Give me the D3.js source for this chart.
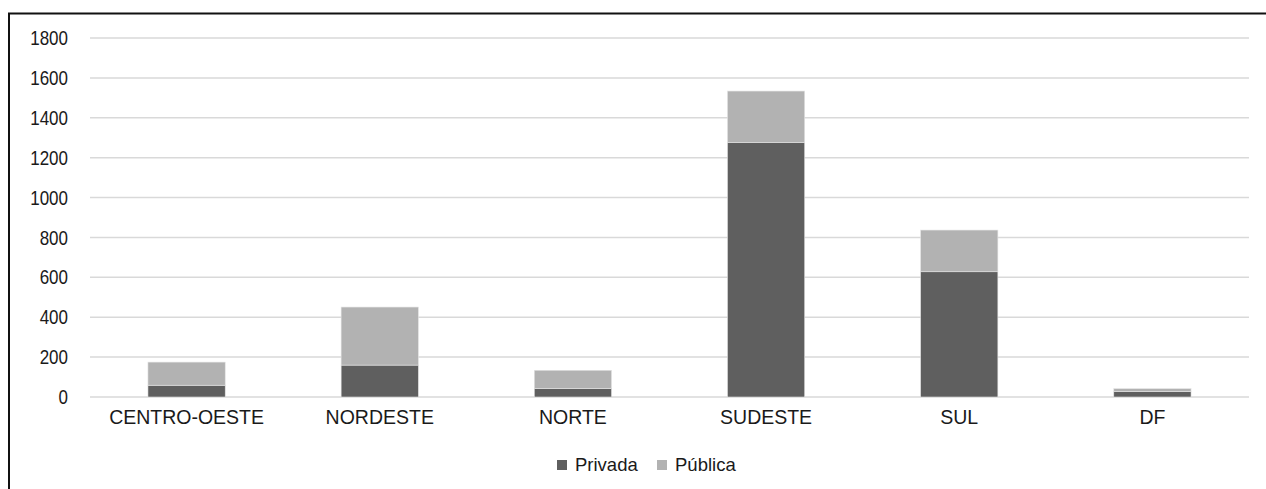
<!DOCTYPE html>
<html>
<head>
<meta charset="utf-8">
<script src="https://cdn.jsdelivr.net/npm/d3@7"></script>
<style>
  html, body { margin: 0; padding: 0; background: #fff; }
  svg { display: block; }
  text { font-family: "Liberation Sans", Arial, sans-serif; fill: #1a1a1a; }
</style>
</head>
<body>
<svg id="chart" width="1266" height="489"></svg>
<script>
// Instituições por região, divididas em privadas e públicas
const regioes = ["CENTRO-OESTE", "NORDESTE", "NORTE", "SUDESTE", "SUL", "DF"];
const privada = [59, 160, 42, 1277, 628, 27];
const publica = [116, 291, 92, 257, 209, 15];
const yTicks = [0, 200, 400, 600, 800, 1000, 1200, 1400, 1600, 1800];
const series = ["Privada", "Pública"];
const cores = ["#5f5f5f", "#b2b2b2"];

const svg = d3.select("#chart");

// Moldura do gráfico
svg.append("rect")
  .attr("x", 9).attr("y", 13.5)
  .attr("width", 1300).attr("height", 500)
  .attr("fill", "none").attr("stroke", "#111").attr("stroke-width", 2);

const plotLeft = 90, plotRight = 1249, plotTop = 38, plotBottom = 397;

const x = d3.scaleBand().domain(regioes).range([plotLeft, plotRight])
  .paddingInner(0.6).paddingOuter(0.3);
const y = d3.scaleLinear().domain([0, 1800]).range([plotBottom, plotTop]);

// Linhas de grade
svg.append("g").selectAll("line").data(yTicks).join("line")
  .attr("x1", plotLeft).attr("x2", plotRight)
  .attr("y1", d => y(d)).attr("y2", d => y(d))
  .attr("stroke", "#d9d9d9").attr("stroke-width", 1.5);

// Eixo Y
const yAxis = svg.append("g").attr("transform", `translate(${plotLeft},0)`)
  .call(d3.axisLeft(y).tickValues(yTicks).tickSize(0).tickPadding(22).tickFormat(d3.format("d")));
yAxis.select(".domain").remove();
yAxis.selectAll("text").style("font-size", "17px").attr("dy", "0.34em")
  .attr("transform", "scale(1,1.15)");

// Barras empilhadas
const dados = regioes.map((r, i) => ({ regiao: r, Privada: privada[i], "Pública": publica[i] }));
const pilha = d3.stack().keys(series)(dados);

svg.append("g").selectAll("g").data(pilha).join("g")
  .attr("fill", (d, i) => cores[i])
  .selectAll("rect").data(d => d).join("rect")
  .attr("x", d => x(d.data.regiao))
  .attr("width", x.bandwidth())
  .attr("y", d => y(d[1]))
  .attr("height", d => y(d[0]) - y(d[1]))
  .attr("stroke", "#e4e4e4").attr("stroke-width", 0.6);

// Eixo X
const xAxis = svg.append("g").attr("transform", `translate(0,${plotBottom})`)
  .call(d3.axisBottom(x).tickSize(0).tickPadding(12));
xAxis.select(".domain").remove();
xAxis.selectAll("text").style("font-size", "19.5px")
  .attr("transform", "scale(1,1.05)");

// Legenda
const legenda = svg.append("g").attr("transform", "translate(557,465)");
const itens = legenda.selectAll("g").data(series).join("g")
  .attr("transform", (d, i) => `translate(${i * 100},0)`);
itens.append("rect").attr("x", 0).attr("y", -5).attr("width", 10).attr("height", 10)
  .attr("fill", (d, i) => cores[i]);
itens.append("text").attr("x", 18).attr("y", 0).attr("dy", "0.35em")
  .style("font-size", "18.5px").text(d => d);
</script>
</body>
</html>
